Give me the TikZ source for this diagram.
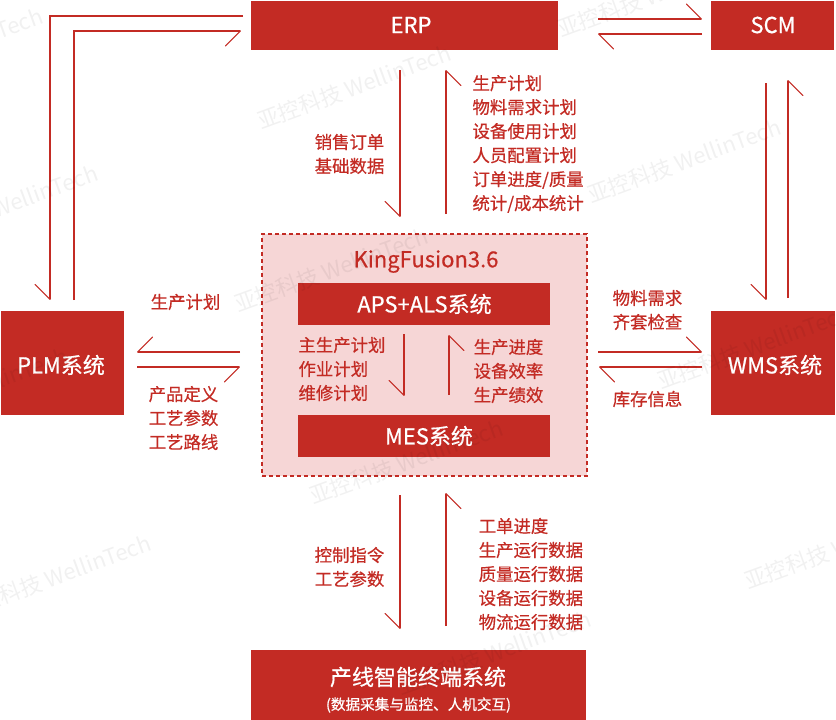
\documentclass[tikz,border=0pt]{standalone}
\usepackage{fontspec}
\setmainfont{Noto Sans CJK SC}[FakeBold=0.6]
\newfontfamily\wmfont{Noto Sans CJK SC}
\usetikzlibrary{arrows.meta}
\definecolor{wlred}{HTML}{C32B24}
\definecolor{wlpink}{HTML}{F6D6D6}
\tikzset{
  x=1pt,y=-1pt,
  redbox/.style={fill=wlred,draw=none,text=white,inner sep=0},
  boxtext/.style={text=white,inner sep=0,font=\fontsize{22}{24}\selectfont},
  lbl/.style={text=wlred,inner sep=0,align=left,font=\fontsize{17.4}{24}\selectfont},
  conn/.style={draw=wlred,line width=1.15pt,line join=miter},
  hl/.style={conn,-{Straight Barb[left,length=15pt,width=30pt,line width=1.15pt,round]}},
  hr/.style={conn,-{Straight Barb[right,length=15pt,width=30pt,line width=1.15pt,round]}},
  wm/.style={text=black,opacity=0.055,rotate=20,anchor=west,inner sep=0,font=\wmfont\fontsize{22}{25}\selectfont},
}
\begin{document}
\begin{tikzpicture}
\useasboundingbox (0,0) rectangle (836,720);
% boxes
\node[redbox,minimum width=307pt,minimum height=49pt] (erp) at (404.5,25.5) {};
\node[boxtext] (erpT) at (411,25) {ERP};
\node[redbox,minimum width=123pt,minimum height=49pt] (scm) at (772.5,25.5) {};
\node[boxtext] (scmT) at (773,25) {SCM};
\node[redbox,minimum width=123pt,minimum height=104pt] (plm) at (62.5,363) {};
\node[boxtext] (plmT) at (61,365) {PLM系统};
\node[redbox,minimum width=124pt,minimum height=104pt] (wms) at (773,363) {};
\node[boxtext] (wmsT) at (775,365) {WMS系统};
\node[draw=wlred,fill=wlpink,dashed,dash pattern=on 4pt off 3pt,line width=2.1pt,minimum width=325pt,minimum height=242pt,inner sep=0] (kf) at (424.5,355) {};
\node[redbox,minimum width=252pt,minimum height=42pt] (aps) at (424,304) {};
\node[boxtext] (apsT) at (424.5,304) {APS+ALS系统};
\node[redbox,minimum width=252pt,minimum height=42pt] (mes) at (424,436) {};
\node[boxtext] (mesT) at (429,436) {MES系统};
\node[redbox,minimum width=335pt,minimum height=70pt] (term) at (418.5,685) {};
\node[boxtext] (termA) at (418,677) {产线智能终端系统};
\node[text=white,inner sep=0,font=\fontsize{14.6}{16}\selectfont] (termB) at (418.5,705) {(数据采集与监控、人机交互)};
\node[text=wlred,inner sep=0,font=\fontsize{22}{24}\selectfont] (kft) at (426,261.5) {KingFusion3.6};
% labels
\node[lbl,anchor=west] (l1) at (314.5,154) {销售订单\\基础数据};
\node[lbl,anchor=west] (l2) at (472.3,144) {生产计划\\物料需求计划\\设备使用计划\\人员配置计划\\订单进度/质量\\统计/成本统计};
\node[lbl,anchor=west] (l3) at (298.3,369) {主生产计划\\作业计划\\维修计划};
\node[lbl,anchor=west] (l4) at (473.5,371) {生产进度\\设备效率\\生产绩效};
\node[lbl,anchor=west] (l5) at (150.5,302) {生产计划};
\node[lbl,anchor=west] (l6) at (148.5,418) {产品定义\\工艺参数\\工艺路线};
\node[lbl,anchor=west] (l7) at (612.5,310) {物料需求\\齐套检查};
\node[lbl,anchor=west] (l8) at (612.5,399) {库存信息};
\node[lbl,anchor=west] (l9) at (314.5,567) {控制指令\\工艺参数};
\node[lbl,anchor=west] (l10) at (478.5,574) {工单进度\\生产运行数据\\质量运行数据\\设备运行数据\\物流运行数据};
% connector ends
\coordinate (a1) at (243,16); \coordinate (a1m) at (50,16); \coordinate (a2) at (50,300);
\coordinate (b1) at (74,300); \coordinate (b1m) at (74,31); \coordinate (b2) at (241,31);
\coordinate (c1) at (598,19); \coordinate (c2) at (702,19);
\coordinate (d1) at (702,34); \coordinate (d2) at (598,34);
\coordinate (e1) at (766,83); \coordinate (e2) at (766,300);
\coordinate (f1) at (788,298); \coordinate (f2) at (788,80);
\coordinate (g1) at (400,70); \coordinate (g2) at (400,217);
\coordinate (h1) at (446,214); \coordinate (h2) at (446,70);
\coordinate (i1) at (240,352); \coordinate (i2) at (137,352);
\coordinate (j1) at (137,367); \coordinate (j2) at (240,367);
\coordinate (k1) at (598,352); \coordinate (k2) at (702,352);
\coordinate (m1) at (702,367); \coordinate (m2) at (599,367);
\coordinate (n1) at (404,334); \coordinate (n2) at (404,396);
\coordinate (o1) at (449,395); \coordinate (o2) at (449,335);
\coordinate (p1) at (400,495); \coordinate (p2) at (400,629);
\coordinate (q1) at (446,626); \coordinate (q2) at (446,493);
% connectors
\draw[hr] (a1) -- (a1m) -- (a2);
\draw[hr] (b1) -- (b1m) -- (b2);
\draw[hl] (c1) -- (c2);
\draw[hl] (d1) -- (d2);
\draw[hr] (e1) -- (e2);
\draw[hr] (f1) -- (f2);
\draw[hr] (g1) -- (g2);
\draw[hr] (h1) -- (h2);
\draw[hr] (i1) -- (i2);
\draw[hr] (j1) -- (j2);
\draw[hl] (k1) -- (k2);
\draw[hl] (m1) -- (m2);
\draw[hr] (n1) -- (n2);
\draw[hr] (o1) -- (o2);
\draw[hr] (p1) -- (p2);
\draw[hr] (q1) -- (q2);
% watermarks
\node[wm] (w1) at (-150,85) {亚控科技 WellinTech};
\node[wm] (w2) at (258,122) {亚控科技 WellinTech};
\node[wm] (w3) at (-95,242) {亚控科技 WellinTech};
\node[wm] (w4) at (235,305) {亚控科技 WellinTech};
\node[wm] (w5) at (558,30) {亚控科技 WellinTech};
\node[wm] (w6) at (588,196) {亚控科技 WellinTech};
\node[wm] (w7) at (658,382) {亚控科技 WellinTech};
\node[wm] (w8) at (310,497) {亚控科技 WellinTech};
\node[wm] (w9) at (-42,612) {亚控科技 WellinTech};
\node[wm] (w10) at (745,582) {亚控科技 WellinTech};
\node[wm] (w11) at (398,688) {亚控科技 WellinTech};
\node[wm] (w12) at (-125,425) {亚控科技 WellinTech};
\end{tikzpicture}
\end{document}
